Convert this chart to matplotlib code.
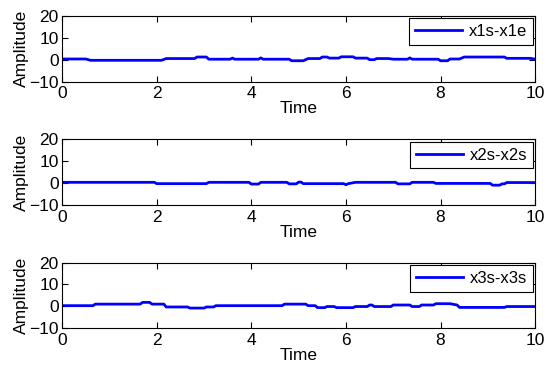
import matplotlib
matplotlib.use("Agg")
import matplotlib.pyplot as plt

plt.rcParams["font.family"] = ["Liberation Sans", "DejaVu Sans"]

labels = ["x1s-x1e", "x2s-x2s", "x3s-x3s"]

t1 = [0, 0.5, 0.6, 2.1, 2.2, 2.8, 2.85, 3.05, 3.1, 3.55, 3.6, 3.65, 4.15, 4.2, 4.25,
      4.8, 4.85, 5.1, 5.2, 5.45, 5.5, 5.6, 5.65, 5.85, 5.9, 6.15, 6.2, 6.45, 6.5, 6.6,
      6.65, 6.9, 7.0, 7.3, 7.35, 7.4, 7.95, 8.0, 8.15, 8.2, 8.4, 8.5, 9.35, 9.4, 9.9, 10]
v1 = [0.3, 0.3, -0.3, -0.3, 0.5, 0.5, 1.2, 1.2, 0.2, 0.2, 0.7, 0.2, 0.2, 0.8, 0.2,
      0.2, -0.5, -0.5, 0.5, 0.5, 1.2, 1.2, 0.7, 0.7, 1.3, 1.3, 0.7, 0.7, 0.0, 0.0,
      0.5, 0.5, 0.2, 0.2, 0.8, 0.2, 0.2, -0.5, -0.5, 0.3, 0.3, 1.2, 1.2, 0.6, 0.6, 0.2]

t2 = [0, 1.95, 2.0, 3.05, 3.1, 3.95, 4.0, 4.15, 4.2, 4.75, 4.8, 4.95, 5.0, 5.05, 5.1,
      5.95, 6.0, 6.05, 6.2, 7.05, 7.1, 7.35, 7.4, 7.85, 7.9, 9.05, 9.1, 9.25, 9.3,
      9.35, 9.4, 10]
v2 = [0.3, 0.3, -0.3, -0.3, 0.3, 0.3, -0.5, -0.5, 0.3, 0.3, -0.4, -0.4, 0.4, 0.4, -0.3,
      -0.3, -0.8, -0.3, 0.3, 0.3, -0.4, -0.4, 0.3, 0.3, -0.2, -0.2, -1.0, -1.0, -0.4,
      -0.4, 0.2, 0.2]

t3 = [0, 0.65, 0.7, 1.65, 1.7, 1.85, 1.9, 2.15, 2.2, 2.65, 2.7, 3.0, 3.05, 3.2, 3.25,
      4.65, 4.7, 5.15, 5.2, 5.35, 5.4, 5.55, 5.6, 5.75, 5.8, 6.15, 6.2, 6.45, 6.5, 6.55,
      6.6, 6.95, 7.0, 7.35, 7.4, 7.55, 7.6, 7.85, 7.9, 8.2, 8.35, 8.4, 9.35, 9.4, 10]
v3 = [0.3, 0.3, 1.0, 1.0, 1.8, 1.8, 1.0, 1.0, -0.3, -0.3, -0.8, -0.8, -0.3, -0.3, 0.3,
      0.3, 1.0, 1.0, 0.3, 0.3, -0.6, -0.6, -0.1, -0.1, -0.6, -0.6, -0.1, -0.1, 0.6, 0.6,
      -0.1, -0.1, 0.6, 0.6, -0.1, -0.1, 0.6, 0.6, 1.2, 1.2, 0.6, -0.5, -0.5, -0.1, -0.1]

series = [(t1, v1), (t2, v2), (t3, v3)]

fig, axes = plt.subplots(3, 1, figsize=(5.5, 3.7), dpi=100)
fig.subplots_adjust(left=0.113, right=0.973, top=0.957, bottom=0.113, hspace=0.88)

for ax, (t, v), lab in zip(axes, series, labels):
    ax.plot(t, v, color="#0000ff", linewidth=2, label=lab)
    ax.set_xlim(0, 10)
    ax.set_ylim(-10, 20)
    ax.set_xticks([0, 2, 4, 6, 8, 10])
    ax.set_yticks([-10, 0, 10, 20])
    ax.tick_params(direction="in", top=True, right=True, labelsize=12.5, length=4)
    ax.tick_params(axis="x", pad=3.5)
    ax.tick_params(axis="y", pad=2.5)
    ax.set_xlabel("Time", fontsize=12.5, labelpad=0)
    ax.set_ylabel("Amplitude", fontsize=12.5, labelpad=0)
    leg = ax.legend(loc="upper right", fontsize=12, fancybox=False, framealpha=1,
                    edgecolor="black", handlelength=2.8, borderpad=0.35,
                    borderaxespad=0.15, handletextpad=0.4)
    leg.get_frame().set_linewidth(0.8)

fig.savefig("out.png")
